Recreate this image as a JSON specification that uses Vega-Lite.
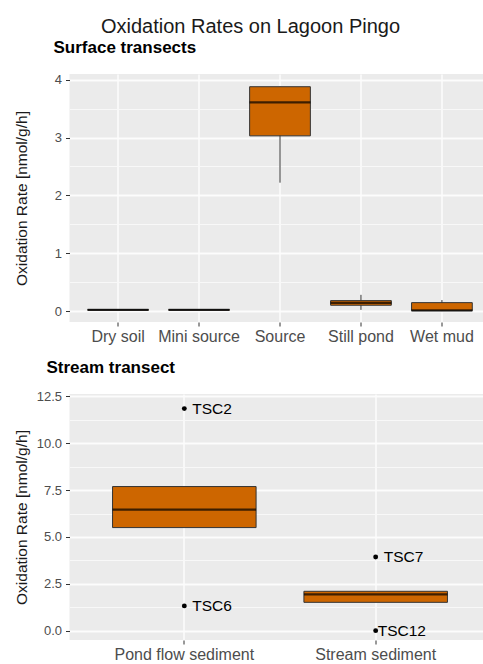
{
  "$schema": "https://vega.github.io/schema/vega-lite/v6.json",
  "background": "white",
  "padding": {"left": 13.5, "top": 16, "right": 0, "bottom": 0},
  "title": {"text": "Oxidation Rates on Lagoon Pingo", "fontSize": 20, "fontWeight": "normal", "anchor": "middle", "color": "#1A1A1A", "offset": 2, "dx": -2, "font": "Liberation Sans"},
  "datasets": {
    "surface": [
      {"site": "Dry soil", "lo": 0.02, "q1": 0.015, "med": 0.02, "q3": 0.025, "hi": 0.025},
      {"site": "Mini source", "lo": 0.02, "q1": 0.015, "med": 0.02, "q3": 0.025, "hi": 0.025},
      {"site": "Source", "lo": 2.22, "q1": 3.03, "med": 3.61, "q3": 3.88, "hi": 3.88},
      {"site": "Still pond", "lo": 0.02, "q1": 0.10, "med": 0.14, "q3": 0.18, "hi": 0.28},
      {"site": "Wet mud", "lo": 0.0, "q1": 0.005, "med": 0.01, "q3": 0.145, "hi": 0.19}
    ],
    "stream_box": [
      {"site": "Pond flow sediment", "q1": 5.5, "med": 6.46, "q3": 7.69},
      {"site": "Stream sediment", "q1": 1.51, "med": 1.94, "q3": 2.1}
    ],
    "stream_pts": [
      {"site": "Pond flow sediment", "id": "TSC2", "rate": 11.85},
      {"site": "Pond flow sediment", "id": "TSC6", "rate": 1.32},
      {"site": "Stream sediment", "id": "TSC7", "rate": 3.93},
      {"site": "Stream sediment", "id": "TSC12", "rate": 0.0}
    ]
  },
  "spacing": 15,
  "vconcat": [
    {
      "width": 421,
      "height": 248,
      "title": {"text": "Surface transects", "anchor": "start", "frame": "group", "fontSize": 17, "fontWeight": "bold", "dx": -16, "offset": 17, "color": "#000000"},
      "data": {"name": "surface"},
      "resolve": {"scale": {"y": "shared"}, "axis": {"y": "independent"}},
      "encoding": {
        "x": {
          "field": "site", "type": "nominal", "sort": null,
          "scale": {"type": "band", "paddingInner": 0.25, "paddingOuter": 0.225},
          "axis": {"title": null, "labelAngle": 0, "bandPosition": 0.5, "labelFontSize": 16, "labelPadding": 2, "gridWidth": 1.3, "gridColor": "#FFFFFF"}
        }
      },
      "layer": [
        {
          "mark": {"type": "rule", "color": "#333333", "strokeWidth": 1},
          "encoding": {
            "y": {
              "field": "lo", "type": "quantitative", "title": "Oxidation Rate [nmol/g/h]",
              "scale": {"domain": [-0.19, 4.1], "nice": false, "zero": false},
              "axis": {
                "orient": "left",
                "grid": true, "gridColor": "#FCFCFC", "gridOpacity": 1, "gridWidth": 2,
                "values": [0, 1, 2, 3, 4],
                "format": ".0f",
                "labelFontSize": 13, "labelPadding": 4,
                "titleFontSize": 15.5, "titleX": -40, "titleY": 124
              }
            },
            "y2": {"field": "hi"}
          }
        },
        {
          "mark": {"type": "bar", "fill": "#CD6600", "stroke": "#333333", "strokeWidth": 1},
          "encoding": {
            "y": {
              "field": "q1", "type": "quantitative",
              "axis": {"orient": "right", "values": [0.5, 1.5, 2.5, 3.5], "grid": true, "gridColor": "#F8F8F8", "gridOpacity": 1, "gridWidth": 1.1, "labels": false, "ticks": false, "domain": false, "title": null}
            },
            "y2": {"field": "q3"}
          }
        },
        {
          "mark": {"type": "tick", "color": "#000000", "thickness": 2.3, "size": 61, "orient": "horizontal"},
          "encoding": {
            "y": {"field": "med", "type": "quantitative", "axis": null}
          }
        }
      ]
    },
    {
      "width": 421,
      "height": 246,
      "title": {"text": "Stream transect", "anchor": "start", "frame": "group", "fontSize": 17, "fontWeight": "bold", "dx": -23, "offset": 13, "color": "#000000"},
      "resolve": {"scale": {"y": "shared"}, "axis": {"y": "independent"}},
      "encoding": {
        "x": {
          "field": "site", "type": "nominal", "sort": null,
          "scale": {"type": "band", "paddingInner": 0.25, "paddingOuter": 0.225},
          "axis": {"title": null, "labelAngle": 0, "bandPosition": 0.5, "labelFontSize": 16, "labelPadding": 2, "gridWidth": 1.3, "gridColor": "#FFFFFF"}
        }
      },
      "layer": [
        {
          "data": {"name": "stream_box"},
          "mark": {"type": "bar", "fill": "#CD6600", "stroke": "#333333", "strokeWidth": 1},
          "encoding": {
            "y": {
              "field": "q1", "type": "quantitative", "title": "Oxidation Rate [nmol/g/h]",
              "scale": {"domain": [-0.5, 12.63], "nice": false, "zero": false},
              "axis": {
                "orient": "left",
                "grid": true, "gridColor": "#FCFCFC", "gridOpacity": 1, "gridWidth": 2,
                "values": [0, 2.5, 5, 7.5, 10, 12.5],
                "format": ".1f",
                "labelFontSize": 13, "labelPadding": 4,
                "titleFontSize": 15.5, "titleX": -40, "titleY": 123
              }
            },
            "y2": {"field": "q3"}
          }
        },
        {
          "data": {"name": "stream_box"},
          "mark": {"type": "tick", "color": "#000000", "thickness": 2.3, "size": 143.5, "orient": "horizontal"},
          "encoding": {
            "y": {
              "field": "med", "type": "quantitative",
              "axis": {"orient": "right", "values": [1.25, 3.75, 6.25, 8.75, 11.25], "grid": true, "gridColor": "#F8F8F8", "gridOpacity": 1, "gridWidth": 1.1, "labels": false, "ticks": false, "domain": false, "title": null}
            }
          }
        },
        {
          "data": {"name": "stream_pts"},
          "mark": {"type": "circle", "color": "#000000", "opacity": 1, "size": 24},
          "encoding": {
            "y": {"field": "rate", "type": "quantitative", "axis": null}
          }
        },
        {
          "data": {"name": "stream_pts"},
          "transform": [{"filter": "datum.id !== 'TSC12'"}],
          "mark": {"type": "text", "align": "left", "baseline": "middle", "dx": 8, "fontSize": 15.5, "color": "#000000"},
          "encoding": {
            "y": {"field": "rate", "type": "quantitative", "axis": null},
            "text": {"field": "id"}
          }
        },
        {
          "data": {"name": "stream_pts"},
          "transform": [{"filter": "datum.id === 'TSC12'"}],
          "mark": {"type": "text", "align": "left", "baseline": "middle", "dx": 2, "fontSize": 15.5, "color": "#000000"},
          "encoding": {
            "y": {"field": "rate", "type": "quantitative", "axis": null},
            "text": {"field": "id"}
          }
        }
      ]
    }
  ],
  "config": {
    "font": "Liberation Sans",
    "view": {"fill": "#EBEBEB", "stroke": null},
    "axis": {
      "domain": false, "grid": true, "gridColor": "#FFFFFF",
      "tickColor": "#333333", "tickSize": 4, "tickWidth": 1,
      "labelColor": "#4D4D4D", "titleColor": "#1A1A1A", "titleFontWeight": "normal",
      "labelFont": "Liberation Sans", "titleFont": "Liberation Sans"
    },
    "title": {"font": "Liberation Sans"}
  }
}
